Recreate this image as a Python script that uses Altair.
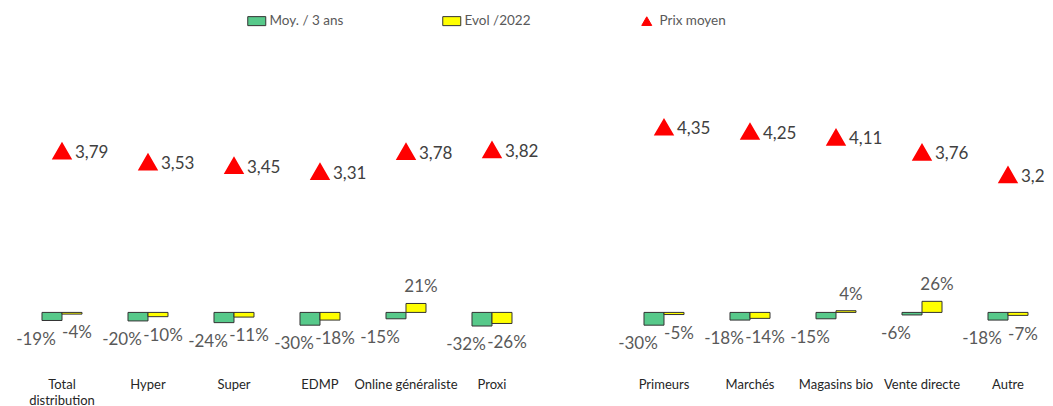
import altair as alt
import pandas as pd

categories = ["Total distribution", "Hyper", "Super", "EDMP", "Online généraliste", "Proxi",
              "Primeurs", "Marchés", "Magasins bio", "Vente directe", "Autre"]
moy_3ans = [-19, -20, -24, -30, -15, -32, -30, -18, -15, -6, -18]
evol_2022 = [-4, -10, -11, -18, 21, -26, -5, -14, 4, 26, -7]
prix_moyen = [3.79, 3.53, 3.45, 3.31, 3.78, 3.82, 4.35, 4.25, 4.11, 3.76, 3.23]

S_MOY = "Moy. / 3 ans"
S_EVOL = "Evol /2022"
S_PRIX = "Prix moyen"
series = [S_MOY, S_EVOL, S_PRIX]

# x domain with an empty slot between the two groups of channels
x_domain = categories[:6] + [""] + categories[6:]

rows = []
for c, m, e in zip(categories, moy_3ans, evol_2022):
    rows.append({"cat": c, "serie": S_MOY, "pct": m})
    rows.append({"cat": c, "serie": S_EVOL, "pct": e})
bars_df = pd.DataFrame(rows)
prix_df = pd.DataFrame({"cat": categories, "serie": S_PRIX, "prix": prix_moyen})

FONT = "Lato"
rect_path = "M-1.8,-0.9H1.8V0.9H-1.8Z"

fill_scale = alt.Scale(domain=series, range=["#57C98A", "#FFFF00", "#FF0000"])
stroke_scale = alt.Scale(domain=series, range=["#333333", "#333333", "#FF0000"])
shape_scale = alt.Scale(domain=series, range=[rect_path, rect_path, "triangle-up"])
y_scale = alt.Scale(domain=[-1.4, 6.4], nice=False, zero=False)

PI = 0.3023
x_enc = alt.X("cat:N", scale=alt.Scale(domain=x_domain, paddingInner=PI, paddingOuter=0.11625, align=0.65),
              sort=x_domain,
              axis=alt.Axis(title=None, labelAngle=0, domain=False, ticks=False, grid=False,
                            labelPadding=6, labelFontSize=13, labelFont=FONT,
                            labelColor="#262626", labelOverlap=False, labelLimit=200,
                            labelLineHeight=16,
                            labelExpr="datum.label == 'Total distribution' ? ['Total', 'distribution'] : datum.label"))
xoff = alt.XOffset("serie:N", scale=alt.Scale(domain=[S_MOY, S_EVOL], paddingInner=0, paddingOuter=0.5))

legend = alt.Legend(title=None, orient="none", direction="horizontal", legendX=231, legendY=-26,
                    gridAlign="all", columnPadding=96, symbolSize=100, symbolStrokeWidth=1,
                    labelOffset=6, labelFont=FONT, labelFontSize=13.5, labelColor="#595959",
                    padding=0)

base_bars = alt.Chart(bars_df).transform_calculate(v="datum.pct / 100")

bars = base_bars.mark_bar(strokeWidth=1).encode(
    x=x_enc,
    xOffset=xoff,
    y=alt.Y("v:Q", scale=y_scale, axis=None),
    y2=alt.datum(0),
    fill=alt.Fill("serie:N", scale=fill_scale, legend=legend),
    stroke=alt.Stroke("serie:N", scale=stroke_scale, legend=legend),
)

lab_base = base_bars.transform_calculate(
    ly="datum.v < 0 ? datum.v - 0.45 : datum.v + 0.38",
    txt="datum.pct + '%'",
)

lab_moy = lab_base.transform_filter(alt.datum.serie == S_MOY).mark_text(
    dx=-16, baseline="middle", font=FONT, fontSize=17, color="#595959"
).encode(x=x_enc, xOffset=xoff, y=alt.Y("ly:Q", scale=y_scale, axis=None), text="txt:N")

lab_evol = lab_base.transform_filter(alt.datum.serie == S_EVOL).mark_text(
    dx=5, baseline="middle", font=FONT, fontSize=17, color="#595959"
).encode(x=x_enc, xOffset=xoff, y=alt.Y("ly:Q", scale=y_scale, axis=None), text="txt:N")

points = alt.Chart(prix_df).mark_point(filled=True, size=289, opacity=1).encode(
    x=x_enc,
    y=alt.Y("prix:Q", scale=y_scale, axis=None),
    fill=alt.Fill("serie:N", scale=fill_scale, legend=legend),
    stroke=alt.Stroke("serie:N", scale=stroke_scale, legend=legend),
    shape=alt.Shape("serie:N", scale=shape_scale, legend=legend),
)

prix_lab = alt.Chart(prix_df).transform_calculate(
    txt="replace(format(datum.prix, '.2f'), '.', ',')"
).mark_text(align="left", baseline="middle", dx=13, dy=2, font=FONT, fontSize=17,
            color="#404040").encode(
    x=x_enc,
    y=alt.Y("prix:Q", scale=y_scale, axis=None),
    text="txt:N",
)

chart = alt.layer(bars, lab_moy, lab_evol, points, prix_lab).properties(
    width=1026, height=332,
    autosize=alt.AutoSizeParams(type="none"),
    padding={"left": 11, "top": 32, "right": 0, "bottom": 34},
).configure(background="white").configure_view(stroke=None)

chart.save("out.html", embed_options={"renderer": "svg", "actions": False})
